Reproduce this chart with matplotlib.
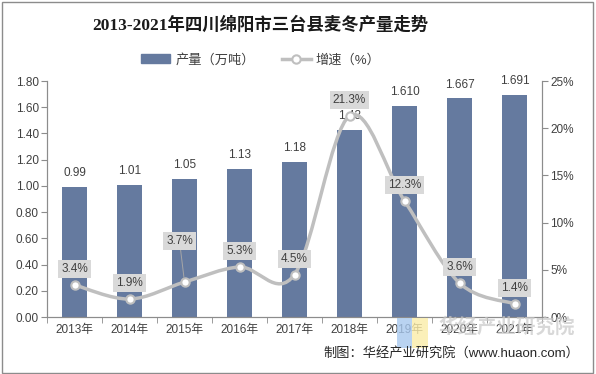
import numpy as np
import matplotlib.pyplot as plt
from matplotlib.path import Path
from matplotlib.patches import PathPatch, Rectangle
from matplotlib.lines import Line2D
from matplotlib.ticker import FixedLocator

plt.rcParams['font.family'] = ['Liberation Sans', 'Noto Sans CJK SC']

years = ['2013年', '2014年', '2015年', '2016年', '2017年', '2018年', '2019年', '2020年', '2021年']
output = [0.99, 1.01, 1.05, 1.13, 1.18, 1.43, 1.610, 1.667, 1.691]
output_labels = ['0.99', '1.01', '1.05', '1.13', '1.18', '1.43', '1.610', '1.667', '1.691']
growth = [3.4, 1.9, 3.7, 5.3, 4.5, 21.3, 12.3, 3.6, 1.4]

bar_color = '#657A9F'
line_color = '#BFBFBF'
text_color = '#404040'
axis_color = '#8C8C8C'

fig = plt.figure(figsize=(5.96, 3.74), dpi=100)
ax = fig.add_axes([0.0789, 0.1524, 0.8305, 0.631])
ax2 = ax.twinx()

x = np.arange(len(years))
ax.bar(x, output, width=0.44, color=bar_color, zorder=2)
for i, v in enumerate(output):
    ax.annotate(output_labels[i], xy=(i, v), xytext=(0, 10), textcoords='offset points',
                ha='center', va='center', fontsize=8.5, color=text_color)

ax.set_xlim(-0.5, len(years) - 0.5)
ax.set_ylim(0, 1.8)
ax.set_yticks(np.arange(0, 1.81, 0.2))
ax.set_yticklabels([f'{v:.2f}' for v in np.arange(0, 1.81, 0.2)], fontsize=8.5, color=text_color)
ax.set_xticks(x)
ax.set_xticklabels(years, fontsize=8.5, color=text_color)
ax.tick_params(axis='x', which='major', length=0, pad=5)
ax.xaxis.set_minor_locator(FixedLocator(np.arange(-0.5, len(years), 1)))
ax.tick_params(axis='x', which='minor', length=4, color=axis_color)
ax.tick_params(axis='y', length=4, color=axis_color, pad=2)

ax2.set_ylim(0, 25)
ax2.set_yticks(range(0, 26, 5))
ax2.set_yticklabels([f'{v}%' for v in range(0, 26, 5)], fontsize=8.5, color=text_color)
ax2.tick_params(axis='y', length=4, color=axis_color, pad=2)

for a in (ax, ax2):
    a.spines['top'].set_visible(False)
    for s in ('left', 'right', 'bottom'):
        a.spines[s].set_color(axis_color)
        a.spines[s].set_linewidth(0.8)

# smooth line (Bezier segments built from the data points)
pts = np.column_stack([x, growth]).astype(float)
verts = [tuple(pts[0])]
codes = [Path.MOVETO]
n = len(pts)
for i in range(n - 1):
    p0 = pts[max(i - 1, 0)]
    p1 = pts[i]
    p2 = pts[i + 1]
    p3 = pts[min(i + 2, n - 1)]
    c1 = p1 + (p2 - p0) / 6
    c2 = p2 - (p3 - p1) / 6
    verts += [tuple(c1), tuple(c2), tuple(p2)]
    codes += [Path.CURVE4] * 3
ax2.add_patch(PathPatch(Path(verts, codes), fill=False, ec=line_color, lw=2.5, zorder=3,
                        capstyle='round'))
ax2.plot(x, growth, ls='none', marker='o', ms=6, mfc='white', mec=line_color, mew=1.5, zorder=4)

for i, g in enumerate(growth):
    if i == 2:
        ax2.annotate(f'{g}%', xy=(i, g), xytext=(-3.6, 29.5), textcoords='offset points',
                     ha='center', va='center', fontsize=8.5, color=text_color, zorder=5,
                     bbox=dict(boxstyle='square,pad=0.25', fc='#D9D9D9', ec='none'),
                     arrowprops=dict(arrowstyle='-', color='#A6A6A6', lw=0.7,
                                     shrinkA=0, shrinkB=3))
    else:
        ax2.annotate(f'{g}%', xy=(i, g), xytext=(0, 11.5), textcoords='offset points',
                     ha='center', va='center', fontsize=8.5, color=text_color, zorder=5,
                     bbox=dict(boxstyle='square,pad=0.25', fc='#D9D9D9', ec='none'))

# title and legend
fig.text(0.437, 0.933, '2013-2021年四川绵阳市三台县麦冬产量走势', ha='center', va='center',
         fontsize=12.5, fontweight='bold', color='#1A1A1A',
         family=['Liberation Serif', 'Noto Sans CJK SC'])
handles = [Rectangle((0, 0), 1, 1, color=bar_color),
           Line2D([], [], color=line_color, lw=2.5, marker='o', ms=6, mfc='white',
                  mec=line_color, mew=1.5)]
fig.legend(handles, ['产量（万吨）', '增速（%）'], loc='center', bbox_to_anchor=(0.438, 0.84),
           ncol=2, frameon=False, fontsize=9.5, handlelength=2.2, columnspacing=2.0,
           handletextpad=0.4, labelcolor=text_color)

# watermark and source
fig.patches.append(Rectangle((0.666, 0.07), 0.026, 0.08, transform=fig.transFigure,
                             fc='#A8C8EE', ec='none', alpha=0.8, zorder=0))
fig.patches.append(Rectangle((0.692, 0.07), 0.026, 0.08, transform=fig.transFigure,
                             fc='#FBEDA8', ec='none', alpha=0.8, zorder=0))
fig.text(0.965, 0.125, '华经产业研究院', ha='right', va='center', fontsize=14,
         fontweight='bold', color='#C8C8C8', alpha=0.7)
fig.text(0.972, 0.056, '制图：华经产业研究院（www.huaon.com）', ha='right', va='center',
         fontsize=9.5, color='#262626')

fig.patches.append(Rectangle((0.003, 0.004), 0.992, 0.99, transform=fig.transFigure,
                             fill=False, ec='#8C8C8C', lw=1.0))

fig.savefig('out.png', dpi=100)
